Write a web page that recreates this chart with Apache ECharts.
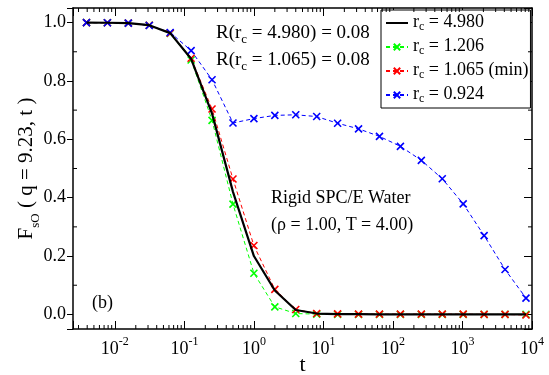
<!DOCTYPE html>
<html><head><meta charset="utf-8">
<script src="https://cdn.jsdelivr.net/npm/echarts@6/dist/echarts.min.js"></script>
<style>html,body{margin:0;padding:0;background:#fff}#c{width:549px;height:375px}</style>
</head><body><div id="c"></div>
<script>
// time grid (t)
const times = [0.00390625, 0.0078125, 0.015625, 0.03125, 0.0625, 0.125, 0.25, 0.5, 1, 2, 4, 8, 16, 32, 64, 128, 256, 512, 1024, 2048, 4096, 8192];
// F_sO values per cutoff
const rc4980 = [0.9999, 0.9995, 0.998, 0.991, 0.964, 0.876, 0.688, 0.420, 0.200, 0.082, 0.015, 0.003, 0.001, 0.001, 0.000, 0.000, 0.000, 0.000, 0.000, 0.000, 0.000, 0.000];
const rc1206 = [0.9999, 0.9995, 0.998, 0.991, 0.963, 0.872, 0.665, 0.378, 0.141, 0.026, 0.003, 0.001, 0.000, 0.000, 0.000, 0.000, 0.000, 0.000, 0.000, 0.000, 0.000, 0.000];
const rc1065 = [0.9999, 0.9995, 0.998, 0.991, 0.964, 0.878, 0.704, 0.464, 0.236, 0.086, 0.017, 0.003, 0.002, 0.001, 0.001, 0.001, 0.001, 0.001, 0.001, 0.000, 0.000, -0.002];
const rc0924 = [0.9999, 0.9995, 0.998, 0.990, 0.966, 0.904, 0.804, 0.656, 0.671, 0.682, 0.684, 0.678, 0.655, 0.636, 0.610, 0.576, 0.528, 0.465, 0.379, 0.270, 0.154, 0.056];
const seriesNames = ['r_c = 4.980', 'r_c = 1.206', 'r_c = 1.065 (min)', 'r_c = 0.924'];
const seriesColors = ['#000000', '#00ff00', '#ff0000', '#0000ff'];
// axes
const xMin = 0.0025, xMax = 10000;
const yMin = -0.05, yMax = 1.05;
const yMinorTicks = [0.1, 0.3, 0.5, 0.7, 0.9];
const xMinorMult = [2, 3, 4, 5, 6, 7, 8, 9];
const xDecades = [-3, -2, -1, 0, 1, 2, 3];

const FONT = 'Liberation Serif';
const xMinorTicks = [];
xDecades.forEach(d => xMinorMult.forEach(m => {
  const v = m * Math.pow(10, d);
  if (v > xMin && v < xMax) xMinorTicks.push(v);
}));

const pair = arr => times.map((t, i) => [t, arr[i]]);
const cross = 'path://M0,0L10,10M0,10L10,0';

function lineSeries(idx, arr, dashed) {
  const c = seriesColors[idx];
  return {
    name: seriesNames[idx], type: 'line', data: pair(arr),
    lineStyle: { color: c, width: dashed ? 1 : 2.2, type: dashed ? [4, 3] : 'solid' },
    itemStyle: { color: c, borderColor: c, borderWidth: 1.6 },
    symbol: dashed ? cross : 'none', symbolSize: 7, showSymbol: dashed,
    z: dashed ? 3 : 4, animation: false
  };
}

function legendFmt(name) {
  return '{r|r}{s|c}{t|' + name.slice(3) + '}';
}

const chart = echarts.init(document.getElementById('c'), null, { renderer: 'canvas' });
const option = {
  animation: false,
  backgroundColor: '#fff',
  textStyle: { fontFamily: FONT, color: '#000' },
  grid: { left: 73, right: 17, top: 8, bottom: 46, containLabel: false, outerBoundsMode: 'none' },
  xAxis: [{
    type: 'log', logBase: 10, min: xMin, max: xMax, position: 'bottom',
    axisLine: { onZero: false, lineStyle: { color: '#000', width: 1.5 } },
    axisTick: { inside: true, length: 8, lineStyle: { color: '#000', width: 1 } },
    splitLine: { show: false },
    axisLabel: {
      margin: 7, color: '#000', fontFamily: FONT,
      formatter: v => {
        const e = Math.round(Math.log10(v));
        if (Math.abs(Math.log10(v) - e) > 1e-6) return '';
        return '{b|10}{p|' + e + '}';
      },
      rich: {
        b: { fontSize: 18, fontFamily: FONT, lineHeight: 22, verticalAlign: 'bottom' },
        p: { fontSize: 12, fontFamily: FONT, lineHeight: 22, verticalAlign: 'top' }
      }
    },
    name: 't', nameLocation: 'middle', nameGap: 25, nameMoveOverlap: false,
    nameTextStyle: { fontSize: 22, fontFamily: FONT, color: '#000' }
  }, {
    type: 'log', logBase: 10, min: xMin, max: xMax, position: 'top',
    axisLine: { onZero: false, lineStyle: { color: '#000', width: 1.5 } },
    axisTick: { inside: true, length: 8, lineStyle: { color: '#000', width: 1 } },
    axisLabel: { show: false }, splitLine: { show: false }
  }],
  yAxis: [{
    type: 'value', min: yMin, max: yMax, splitNumber: 6, position: 'left',
    axisLine: { show: true, onZero: false, lineStyle: { color: '#000', width: 1.5 } },
    axisTick: { show: true, inside: false, length: 6, lineStyle: { color: '#000', width: 1 } },
    splitLine: { show: false },
    axisLabel: {
      margin: 7, color: '#000', fontSize: 18, fontFamily: FONT,
      formatter: v => (v < -0.001 || v > 1.001) ? '' : v.toFixed(1)
    },
    name: '{m|F}{s|sO}{m| ( q = 9.23, t )}', nameLocation: 'middle', nameGap: 31, nameRotate: 90,
    nameMoveOverlap: false,
    nameTextStyle: {
      color: '#000', fontFamily: FONT,
      rich: {
        m: { fontSize: 21, fontFamily: FONT, lineHeight: 26, verticalAlign: 'top' },
        s: { fontSize: 13, fontFamily: FONT, lineHeight: 26, verticalAlign: 'bottom' }
      }
    }
  }, {
    type: 'value', min: yMin, max: yMax, splitNumber: 6, position: 'right',
    axisLine: { show: true, onZero: false, lineStyle: { color: '#000', width: 1.5 } },
    axisTick: { show: true, inside: true, length: 8, lineStyle: { color: '#000', width: 1 } },
    axisLabel: { show: false }, splitLine: { show: false }
  }],
  legend: {
    orient: 'vertical', left: 381, top: 10,
    backgroundColor: '#fff', borderColor: '#000', borderWidth: 1,
    padding: [3, 2, 3, 4], itemGap: 4, itemWidth: 22, itemHeight: 8,
    data: [
      { name: seriesNames[0], itemStyle: { opacity: 0 } },
      seriesNames[1], seriesNames[2], seriesNames[3]
    ],
    formatter: legendFmt,
    textStyle: {
      color: '#000', fontFamily: FONT, fontSize: 18,
      rich: {
        r: { fontSize: 18, fontFamily: FONT, lineHeight: 20, verticalAlign: 'top' },
        s: { fontSize: 12, fontFamily: FONT, lineHeight: 20, verticalAlign: 'bottom' },
        t: { fontSize: 18, fontFamily: FONT, lineHeight: 20, verticalAlign: 'top' }
      }
    }
  },
  graphic: [
    { type: 'text', left: 216, top: 24, style: { text: '{a|R(r}{s|c}{a| = 4.980) = 0.08}', rich: { a: { fontSize: 19, fontFamily: FONT, lineHeight: 22, verticalAlign: 'top' }, s: { fontSize: 13, fontFamily: FONT, lineHeight: 22, verticalAlign: 'bottom' } }, fill: '#000' } },
    { type: 'text', left: 216, top: 51, style: { text: '{a|R(r}{s|c}{a| = 1.065) = 0.08}', rich: { a: { fontSize: 19, fontFamily: FONT, lineHeight: 22, verticalAlign: 'top' }, s: { fontSize: 13, fontFamily: FONT, lineHeight: 22, verticalAlign: 'bottom' } }, fill: '#000' } },
    { type: 'text', left: 271, top: 189, style: { text: 'Rigid SPC/E Water', font: '18px "Liberation Serif"', fill: '#000' } },
    { type: 'text', left: 271, top: 216, style: { text: '(\u03c1 = 1.00, T = 4.00)', font: '18px "Liberation Serif"', fill: '#000' } },
    { type: 'text', left: 92, top: 294, style: { text: '(b)', font: '18px "Liberation Serif"', fill: '#000' } }
  ],
  series: [
    {
      type: 'custom', name: 'minorX', coordinateSystem: 'cartesian2d', silent: true, z: 10,
      data: xMinorTicks.map(v => [v, 0]),
      renderItem: (params, api) => {
        const t = api.value(0);
        const b = api.coord([t, yMin]);
        const tp = api.coord([t, yMax]);
        return { type: 'group', children: [
          { type: 'line', shape: { x1: b[0], y1: b[1], x2: b[0], y2: b[1] - 4 }, style: { stroke: '#000', lineWidth: 1 } },
          { type: 'line', shape: { x1: tp[0], y1: tp[1], x2: tp[0], y2: tp[1] + 4 }, style: { stroke: '#000', lineWidth: 1 } }
        ] };
      }
    },
    {
      type: 'custom', name: 'minorY', coordinateSystem: 'cartesian2d', silent: true, z: 10,
      data: yMinorTicks.map(v => [xMin, v]),
      renderItem: (params, api) => {
        const y = api.value(1);
        const l = api.coord([xMin, y]);
        const r = api.coord([xMax, y]);
        return { type: 'group', children: [
          { type: 'line', shape: { x1: l[0], y1: l[1], x2: l[0] + 4, y2: l[1] }, style: { stroke: '#000', lineWidth: 1 } },
          { type: 'line', shape: { x1: r[0], y1: r[1], x2: r[0] - 4, y2: r[1] }, style: { stroke: '#000', lineWidth: 1 } }
        ] };
      }
    },
    lineSeries(1, rc1206, true),
    lineSeries(2, rc1065, true),
    lineSeries(3, rc0924, true),
    lineSeries(0, rc4980, false)
  ]
};
chart.setOption(option);
</script>
</body></html>
